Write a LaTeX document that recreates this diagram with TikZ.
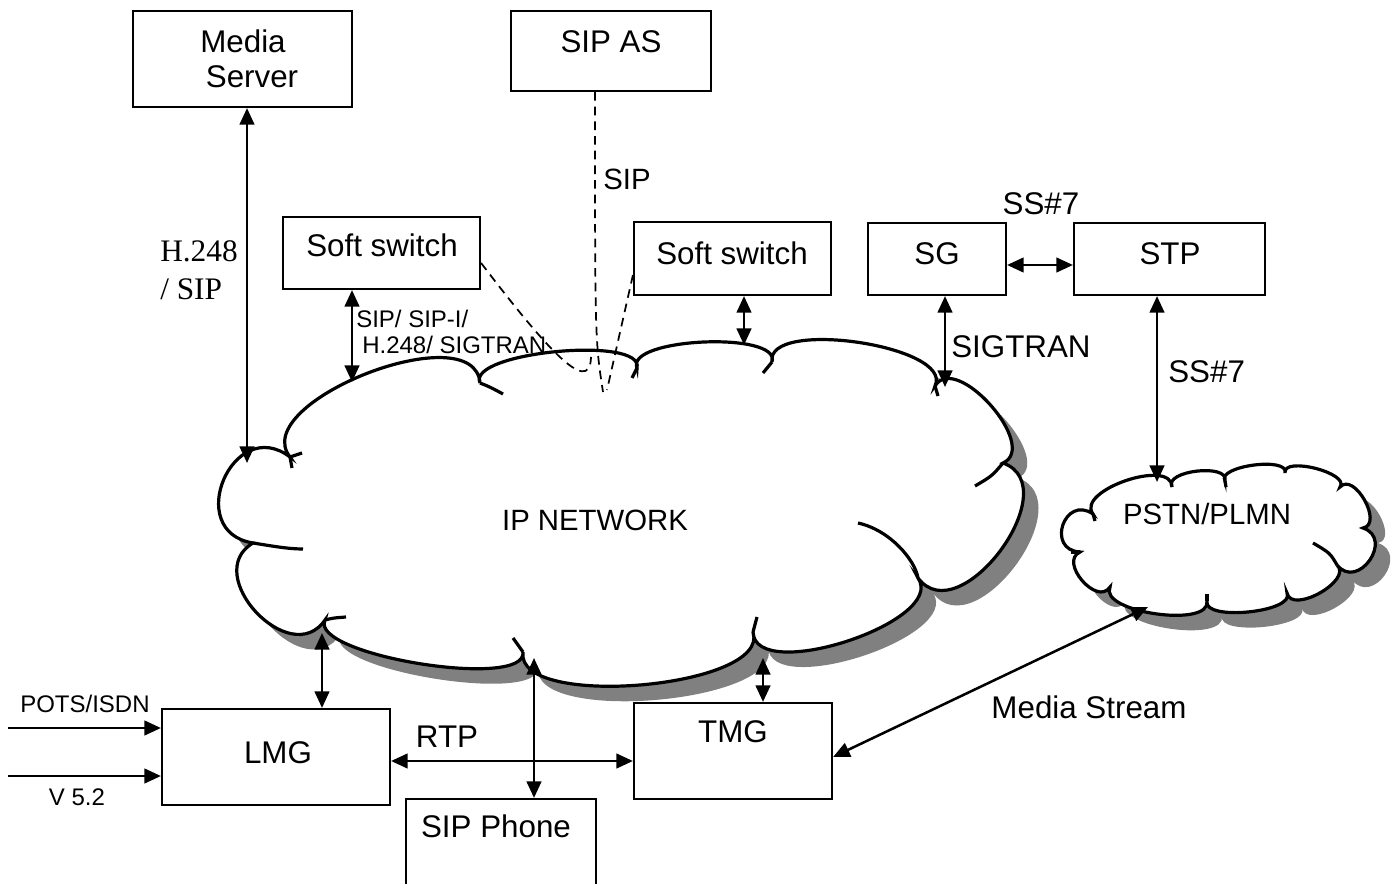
\documentclass[tikz,border=0pt]{standalone}
\usepackage{fontspec}
\setmainfont{Liberation Sans}
\newfontfamily\timesfont{Liberation Serif}
\usetikzlibrary{arrows.meta,calc}
\newcommand\lobe[4]{.. controls ($(#1)!-#4pt!(#2)!#3pt!90:(#2)$) and ($(#2)!-#4pt!(#1)!#3pt!-90:(#1)$) .. (#2)}
\newcommand\bigf{\fontsize{23.5pt}{28pt}\selectfont}
\newcommand\midf{\fontsize{22pt}{26pt}\selectfont}
\newcommand\smallf{\fontsize{18pt}{21pt}\selectfont}
\newcommand\bigserif{\timesfont\fontsize{23.5pt}{28pt}\selectfont}
\newcommand\mainpath{(j1) \lobe{j1}{j2}{50}{15} \lobe{j2}{j3}{24}{8} \lobe{j3}{j4}{23}{8} \lobe{j4}{j5}{32}{10} \lobe{j5}{j6}{29}{9} \lobe{j6}{j7}{50}{15} \lobe{j7}{j8}{38}{11} \lobe{j8}{j9}{43}{10} \lobe{j9}{j10}{28}{8} \lobe{j10}{j11}{45}{10} \lobe{j11}{j1}{52}{13} -- cycle}
\newcommand\pstnpath{(q1) \lobe{q1}{q2}{21}{7} \lobe{q2}{q3}{13}{5} \lobe{q3}{q4}{12}{5} \lobe{q4}{q5}{12}{5} \lobe{q5}{q6}{15}{5} \lobe{q6}{q7}{24}{7} \lobe{q7}{q8}{16}{5} \lobe{q8}{q9}{15}{5} \lobe{q9}{q10}{20}{6} \lobe{q10}{q11}{17}{5} \lobe{q11}{q1}{25}{7} -- cycle}
\definecolor{shadowgray}{HTML}{808080}
\begin{document}
\begin{tikzpicture}[x=0.75pt,y=-0.75pt,
  box/.style={draw, line width=1.6pt, inner sep=0pt},
  lbl/.style={inner sep=0pt, anchor=base},
  cloudline/.style={line width=2.4pt},
  arr/.style={line width=1.9pt, {Triangle[length=12.5pt,width=11pt]}-{Triangle[length=12.5pt,width=11pt]}},
  inarr/.style={line width=1.9pt, -{Triangle[length=12.5pt,width=11pt]}},
  dashline/.style={line width=1.3pt, dash pattern=on 6.5pt off 4.5pt}]
\useasboundingbox (0,0) rectangle (1398,884);
\fill[white] (0,0) rectangle (1398,884);
\clip (0,0) rectangle (1398,884);

% main cloud junctions
\coordinate (j1) at (290,457);
\coordinate (j2) at (480,383);
\coordinate (j3) at (637,368);
\coordinate (j4) at (772,362);
\coordinate (j5) at (935,386);
\coordinate (j6) at (1003,463);
\coordinate (j7) at (918,578);
\coordinate (j8) at (753,632);
\coordinate (j9) at (523,652);
\coordinate (j10) at (325,620);
\coordinate (j11) at (253,543);
% PSTN cloud junctions
\coordinate (q1) at (1093,514);
\coordinate (q2) at (1172,487);
\coordinate (q3) at (1225,481);
\coordinate (q4) at (1285,473);
\coordinate (q5) at (1340,487);
\coordinate (q6) at (1363,528);
\coordinate (q7) at (1337,565);
\coordinate (q8) at (1287,593);
\coordinate (q9) at (1207,601);
\coordinate (q10) at (1110,587);
\coordinate (q11) at (1080,552);

% shadows
\begin{scope}[transform canvas={shift={(15,15)}}]
  \fill[shadowgray] \mainpath;
  \fill[shadowgray] \pstnpath;
\end{scope}
% clouds
\filldraw[fill=white, cloudline] \mainpath;
\filldraw[fill=white, cloudline] \pstnpath;
% inner arcs of the main cloud
\draw[cloudline] (292,468) -- (j1) -- (302,453);
\draw[cloudline] (j11) .. controls (272,546) and (288,549) .. (303,549);
\draw[cloudline] (j10) .. controls (333,618) .. (346,617);
\draw[cloudline] (j9) -- (513,638);
\draw[cloudline] (j8) -- (757,617);
\draw[cloudline] (j7) .. controls (915,560) and (890,530) .. (858,523);
\draw[cloudline] (j6) .. controls (992,476) .. (975,486);
\draw[cloudline] (j5) -- (938,396);
\draw[cloudline] (j4) -- (763,373);
\draw[cloudline] (j3) -- (632,378);
\draw[cloudline] (j2) .. controls (490,387) .. (503,394);
% inner arcs of the PSTN cloud
\draw[cloudline] (q7) .. controls (1330,553) .. (1313,543);
\draw[cloudline] (q1) -- (1095,521);
\draw[cloudline] (q3) -- (1226,487);
\draw[cloudline] (q9) -- (1207,594);
\draw[cloudline] (q11) -- (1071,552);

% boxes
\node[box, minimum width=164.25pt, minimum height=72pt] (ms) at (242.5,59) {};
\node[box, minimum width=150pt, minimum height=60pt] (sipas) at (611,51) {};
\node[box, minimum width=147.75pt, minimum height=54pt] (ssl) at (381.5,253) {};
\node[box, minimum width=147.75pt, minimum height=54.75pt] (ssr) at (732.5,258.5) {};
\node[box, minimum width=103.5pt, minimum height=54pt] (sg) at (937,259) {};
\node[box, minimum width=143.25pt, minimum height=54pt] (stp) at (1169.5,259) {};
\node[box, minimum width=171pt, minimum height=72pt] (lmg) at (276,757) {};
\node[box, minimum width=148.5pt, minimum height=72pt] (tmg) at (733,751) {};
\node[box, minimum width=142.5pt, minimum height=79.5pt] (phone) at (501,852) {};

% cloud contact points
\coordinate (cMS) at (247,463);
\coordinate (cSSL) at (352,382);
\coordinate (cSSR) at (744,345);
\coordinate (cSG) at (945,387);
\coordinate (cSTP) at (1157,482);
\coordinate (cLMG) at (322,633);
\coordinate (cPH) at (534,658);
\coordinate (cTMG) at (763,658);
\coordinate (cPS) at (1148,607);
\coordinate (cSIP) at (603,392);
\coordinate (cSIPb) at (607,390);
\coordinate (cHook) at (591,357);
\coordinate (potsA) at (8,728);
\coordinate (v52A) at (8,776);

% dashed signalling lines
\draw[dashline] (sipas.south -| 595,0) .. controls (595,340) .. (cSIP);
\draw[dashline] (ssr.west |- 0,275) -- (cSIPb);
\draw[dashline] (ssl.east |- 0,263) .. controls (540,340) and (590,400) .. (cHook);

% arrows
\draw[arr] (cMS |- ms.south) -- (cMS);
\draw[arr] (cSSL |- ssl.south) -- (cSSL);
\draw[arr] (cSSR |- ssr.south) -- (cSSR);
\draw[arr] (cSG |- sg.south) -- (cSG);
\draw[arr] (sg.east |- 0,265) -- (stp.west |- 0,265);
\draw[arr] (cSTP |- stp.south) -- (cSTP);
\draw[arr] (cLMG) -- (cLMG |- lmg.north);
\draw[arr] (cPH) -- (cPH |- phone.north);
\draw[arr] (cTMG) -- (cTMG |- tmg.north);
\draw[arr] (lmg.east |- 0,761) -- (tmg.west |- 0,761);
\draw[arr] (tmg.east |- 0,757) -- (cPS);
\draw[inarr] (potsA) -- (potsA -| lmg.west);
\draw[inarr] (v52A) -- (v52A -| lmg.west);

% texts
\node[lbl,font=\bigf] (t-media) at (243,53) {Media};
\node[lbl,font=\bigf] (t-server) at (252,88) {Server};
\node[lbl,font=\bigf] (t-sipas) at (611,53) {SIP AS};
\node[lbl,font=\bigf] (t-ssl) at (382,257) {Soft switch};
\node[lbl,font=\bigf] (t-ssr) at (732,264) {Soft switch};
\node[lbl,font=\bigf] (t-sg) at (937,264) {SG};
\node[lbl,font=\bigf] (t-stp) at (1170,264) {STP};
\node[lbl,font=\bigf] (t-lmg) at (278,763) {LMG};
\node[lbl,font=\bigf] (t-tmg) at (733,742) {TMG};
\node[lbl,font=\bigf] (t-phone) at (496,837) {SIP Phone};
\node[lbl,font=\bigf] (t-rtp) at (447,747) {RTP};
\node[lbl,font=\bigf] (t-stream) at (1089,718) {Media Stream};
\node[lbl,font=\midf] (t-ip) at (595,530) {IP NETWORK};
\node[lbl,font=\midf] (t-pstn) at (1207,524) {PSTN/PLMN};
\node[lbl,font=\midf] (t-sip) at (627,190) {SIP};
\node[lbl,font=\bigf] (t-ss7a) at (1041,215) {SS\#7};
\node[lbl,font=\bigf,anchor=base west] (t-sigtran) at (951,357) {SIGTRAN};
\node[lbl,font=\bigf,anchor=base west] (t-ss7b) at (1168,382) {SS\#7};
\node[lbl,font=\smallf,anchor=base west] (t-pots) at (20,712) {POTS/ISDN};
\node[lbl,font=\smallf] (t-v52) at (77,805) {V 5.2};
\node[lbl,font=\bigserif,anchor=base west] (t-h248) at (160,262) {H.248};
\node[lbl,font=\bigserif,anchor=base west] (t-slsip) at (160,299) {/ SIP};
\node[lbl,font=\smallf,anchor=base west] (t-sigl1) at (356,327) {SIP/ SIP-I/};
\node[lbl,font=\smallf,anchor=base west] (t-sigl2) at (362,353) {H.248/ SIGTRAN};
\end{tikzpicture}
\end{document}
